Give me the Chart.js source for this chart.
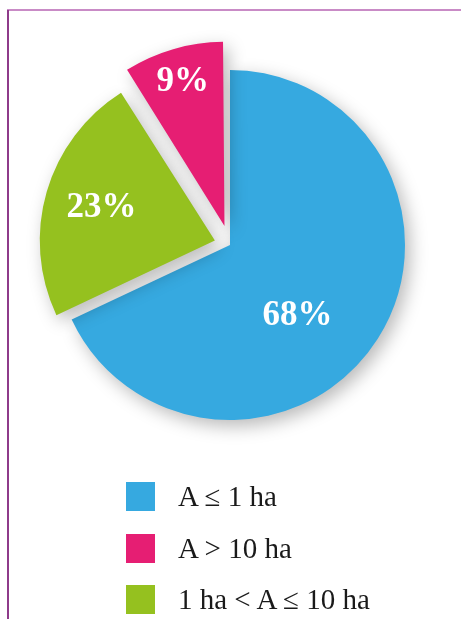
<!DOCTYPE html>
<html>
<head>
<meta charset="utf-8">
<script src="https://cdn.jsdelivr.net/npm/chart.js@4/dist/chart.umd.min.js"></script>
<style>
  body { margin: 0; background: #fff; }
  #wrap { position: relative; width: 461px; height: 619px; overflow: hidden; }
  #topLine { position: absolute; left: 7px; top: 9px; width: 454px; height: 2px; background: #c98bc6; }
  #leftLine { position: absolute; left: 7px; top: 10px; width: 1.5px; height: 609px; background: #8e3b8a; }
  #legend { position: absolute; left: 126px; top: 482px; font-family: "Liberation Serif", "Times New Roman", serif; font-size: 29px; color: #1a1a1a; }
  .item { display: flex; align-items: center; height: 29px; margin-bottom: 22.5px; }
  .box { width: 29px; height: 29px; margin-right: 23px; }
</style>
</head>
<body>
<div id="wrap">
  <canvas id="grafico" width="461" height="619"></canvas>
  <div id="topLine"></div>
  <div id="leftLine"></div>
  <div id="legend"></div>
</div>
<script>
// dados (sentido horário a partir do topo)
const categorias = ['A ≤ 1 ha', '1 ha < A ≤ 10 ha', 'A > 10 ha'];
const percentuais = [68, 23, 9];
const cores = ['#36a9e0', '#95c11f', '#e61e73'];
const ordemLegenda = [0, 2, 1];

// deslocamento das fatias e posição dos rótulos
const afastamento = [0, 63, 79];
const distRotulo = [0.56, 0.765, 0.97];
const giroRotulo = [14, 0, 0];

const sombra = {
    id: 'sombra',
    beforeDatasetsDraw(chart) {
        const c = chart.ctx;
        c.save();
        c.shadowColor = 'rgba(0,0,0,0.28)';
        c.shadowBlur = 18;
        c.shadowOffsetX = 5;
        c.shadowOffsetY = 6;
    },
    afterDatasetsDraw(chart) {
        chart.ctx.restore();
    }
};

const rotulos = {
    id: 'rotulos',
    afterDraw(chart) {
        const c = chart.ctx;
        const meta = chart.getDatasetMeta(0);
        c.save();
        c.fillStyle = '#fff';
        c.font = 'bold 35px "Liberation Serif", "Times New Roman", serif';
        c.textAlign = 'center';
        c.textBaseline = 'middle';
        meta.data.forEach((arco, i) => {
            const meio = (arco.startAngle + arco.endAngle) / 2 + giroRotulo[i] * Math.PI / 180;
            const r = arco.outerRadius * distRotulo[i];
            c.fillText(percentuais[i] + '%', arco.x + Math.cos(meio) * r, arco.y + Math.sin(meio) * r);
        });
        c.restore();
    }
};

const ctx = document.getElementById('grafico').getContext('2d');
const grafico = new Chart(ctx, {
    type: 'pie',
    data: {
        labels: categorias,
        datasets: [{
            data: percentuais,
            backgroundColor: cores,
            borderWidth: 0,
            offset: afastamento
        }]
    },
    options: {
        responsive: false,
        animation: false,
        radius: 175,
        layout: { padding: { left: 0, right: 1, top: 0, bottom: 129 } },
        plugins: {
            legend: { display: false },
            tooltip: { enabled: false }
        }
    },
    plugins: [sombra, rotulos]
});

// legenda
const legenda = document.getElementById('legend');
ordemLegenda.forEach((i) => {
    const item = document.createElement('div');
    item.className = 'item';
    item.innerHTML = '<div class="box" style="background:' + cores[i] + '"></div><span>' + categorias[i] + '</span>';
    legenda.appendChild(item);
});
</script>
</body>
</html>
